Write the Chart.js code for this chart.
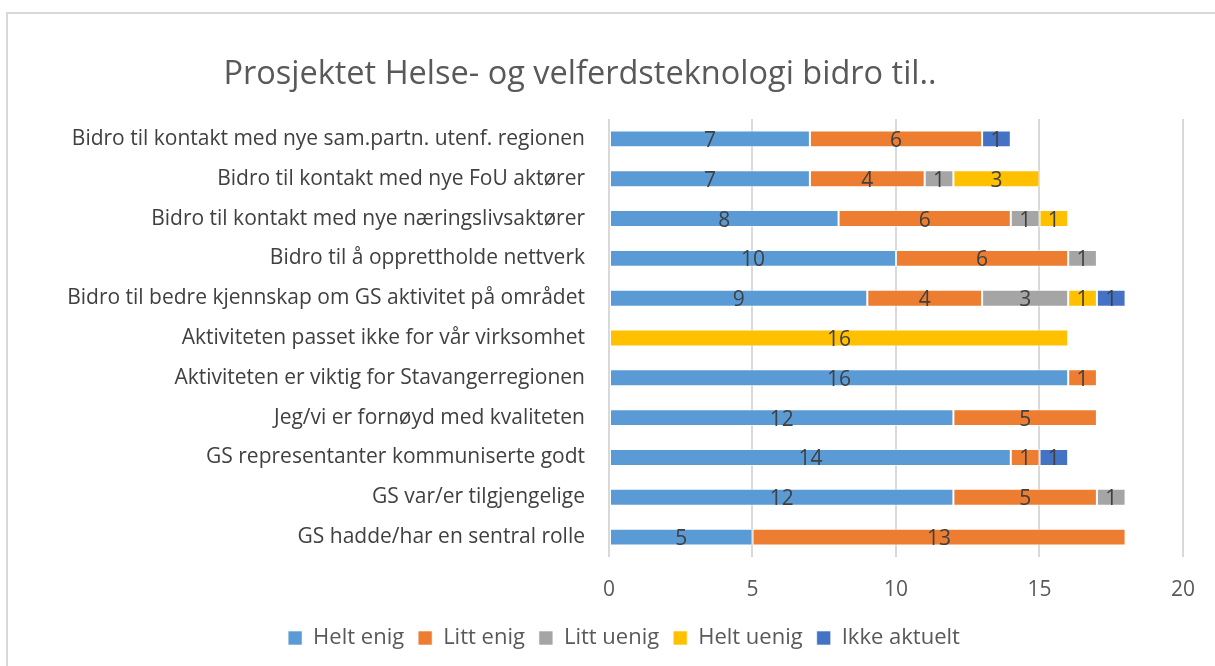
<!DOCTYPE html>
<html>
<head>
<meta charset="utf-8">
<script src="https://cdn.jsdelivr.net/npm/chart.js@4.4.0/dist/chart.umd.min.js"></script>
<style>
  html, body { margin: 0; padding: 0; background: #fff; }
  #frame { position: absolute; left: 6px; top: 12px; width: 1215px; height: 660px;
           border-left: 2px solid #d9d9d9; border-top: 2px solid #d9d9d9; }
  #wrap { position: absolute; left: 0; top: 0; width: 1215px; height: 666px; }
</style>
</head>
<body>
<div id="frame"></div>
<div id="wrap"><canvas id="chart"></canvas></div>
<script>
const chartTitle = 'Prosjektet Helse- og velferdsteknologi bidro til..';

const categories = [
    'Bidro til kontakt med nye sam.partn. utenf. regionen',
    'Bidro til kontakt med nye FoU aktører',
    'Bidro til kontakt med nye næringslivsaktører',
    'Bidro til å opprettholde nettverk',
    'Bidro til bedre kjennskap om GS aktivitet på området',
    'Aktiviteten passet ikke for vår virksomhet',
    'Aktiviteten er viktig for Stavangerregionen',
    'Jeg/vi er fornøyd med kvaliteten',
    'GS representanter kommuniserte godt',
    'GS var/er tilgjengelige',
    'GS hadde/har en sentral rolle'
];

const seriesNames = ['Helt enig', 'Litt enig', 'Litt uenig', 'Helt uenig', 'Ikke aktuelt'];
const heltEnig   = [7, 7, 8, 10, 9, 0, 16, 12, 14, 12, 5];
const littEnig   = [6, 4, 6, 6, 4, 0, 1, 5, 1, 5, 13];
const littUenig  = [0, 1, 1, 1, 3, 0, 0, 0, 0, 1, 0];
const heltUenig  = [0, 3, 1, 0, 1, 16, 0, 0, 0, 0, 0];
const ikkeAktuelt = [1, 0, 0, 0, 1, 0, 0, 0, 1, 0, 0];
const seriesColors = ['#5b9bd5', '#ed7d31', '#a5a5a5', '#ffc000', '#4472c4'];
const xTicks = [0, 5, 10, 15, 20];

const FONT = '"Open Sans", "Noto Sans", sans-serif';

// draws the value in the middle of every non-empty segment
const barLabels = {
    id: 'barLabels',
    afterDatasetsDraw(chart) {
        const ctx = chart.ctx;
        ctx.save();
        ctx.font = '21px ' + FONT;
        ctx.fillStyle = '#404040';
        ctx.textAlign = 'center';
        ctx.textBaseline = 'middle';
        chart.data.datasets.forEach((ds, i) => {
            const meta = chart.getDatasetMeta(i);
            meta.data.forEach((bar, j) => {
                const v = ds.data[j];
                if (!v) return;
                const mid = (bar.x + bar.base) / 2;
                ctx.fillText(String(v), mid, bar.y + 2);
            });
        });
        ctx.restore();
    }
};

// title drawn a bit left of centre like the original
const titleDraw = {
    id: 'titleDraw',
    afterDraw(chart) {
        const ctx = chart.ctx;
        ctx.save();
        ctx.font = '32.5px ' + FONT;
        ctx.fillStyle = '#595959';
        ctx.textAlign = 'center';
        ctx.textBaseline = 'middle';
        ctx.fillText(chartTitle, 580, 75);
        ctx.restore();
    }
};

const datasets = [heltEnig, littEnig, littUenig, heltUenig, ikkeAktuelt].map((d, i) => ({
    label: seriesNames[i],
    data: d,
    backgroundColor: seriesColors[i],
    borderColor: 'rgba(255,255,255,0.6)',
    borderWidth: 1,
    borderSkipped: false,
    barPercentage: 0.85,
    categoryPercentage: 0.5
}));

new Chart(document.getElementById('chart'), {
    type: 'bar',
    data: { labels: categories, datasets: datasets },
    options: {
        indexAxis: 'y',
        responsive: true,
        maintainAspectRatio: false,
        animation: false,
        layout: { padding: { left: 40, right: 7, top: 119, bottom: 7 } },
        scales: {
            x: {
                stacked: true,
                min: 0,
                max: 20,
                afterBuildTicks: scale => { scale.ticks = xTicks.map(v => ({ value: v })); },
                afterFit: scale => { scale.height = 56; },
                grid: { color: '#d9d9d9', lineWidth: 2, drawTicks: false },
                border: { display: false },
                ticks: { color: '#595959', font: { size: 21, family: FONT }, padding: 20 }
            },
            y: {
                stacked: true,
                afterFit: scale => { scale.width = 569; },
                grid: { display: false },
                border: { display: false },
                ticks: { color: '#404040', font: { size: 21, family: FONT }, padding: 16 }
            },
            // empty spacer on the right so the plot ends where the original does
            yRight: {
                type: 'category',
                position: 'right',
                afterFit: scale => { scale.width = 21; },
                grid: { display: false },
                border: { display: false },
                ticks: { display: false }
            }
        },
        plugins: {
            title: { display: false },
            tooltip: { enabled: false },
            legend: {
                position: 'bottom',
                labels: {
                    color: '#595959',
                    font: { size: 22, family: FONT },
                    boxWidth: 14,
                    boxHeight: 14,
                    padding: 14
                }
            }
        }
    },
    plugins: [barLabels, titleDraw]
});
</script>
</body>
</html>
